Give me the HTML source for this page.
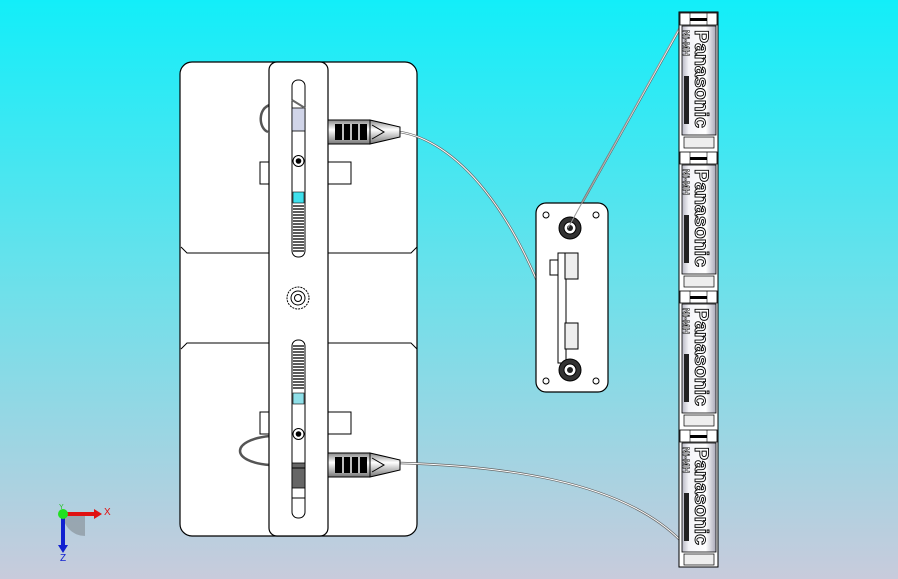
<!DOCTYPE html>
<html><head><meta charset="utf-8"><style>
html,body{margin:0;padding:0;width:898px;height:579px;overflow:hidden}
svg{display:block}
</style></head><body>
<svg width="898" height="579" viewBox="0 0 898 579" xmlns="http://www.w3.org/2000/svg" font-family="Liberation Sans, sans-serif">
<defs>
<linearGradient id="bg" x1="0" y1="0" x2="0" y2="1">
<stop offset="0" stop-color="#12eef9"/>
<stop offset="0.5" stop-color="#6ee0ea"/>
<stop offset="1" stop-color="#c8cbdc"/>
</linearGradient>
<linearGradient id="cell" x1="0" y1="0" x2="1" y2="0">
<stop offset="0" stop-color="#b8b8c4"/>
<stop offset="0.2" stop-color="#f4f4f8"/>
<stop offset="0.7" stop-color="#ffffff"/>
<stop offset="1" stop-color="#a8a8b8"/>
</linearGradient>
<linearGradient id="conn" x1="0" y1="0" x2="0" y2="1">
<stop offset="0" stop-color="#888"/>
<stop offset="0.4" stop-color="#fff"/>
<stop offset="1" stop-color="#777"/>
</linearGradient>
</defs>
<rect width="898" height="579" fill="url(#bg)"/>

<!-- main plate -->
<rect x="180" y="62" width="237" height="474" rx="12" fill="#fff" stroke="#000" stroke-width="1.2"/>
<path d="M181 247 L187 253 L269 253 M328 253 L411 253 L417 247" fill="none" stroke="#000"/>
<path d="M181 349 L187 343 L269 343 M328 343 L411 343 L417 349" fill="none" stroke="#000"/>
<!-- tabs -->
<rect x="260" y="162" width="10" height="22" fill="#fff" stroke="#000"/>
<rect x="328" y="162" width="23" height="22" fill="#fff" stroke="#000"/>
<rect x="260" y="412" width="10" height="22" fill="#fff" stroke="#000"/>
<rect x="328" y="412" width="23" height="22" fill="#fff" stroke="#000"/>
<!-- loops -->
<path d="M270 105 C258 108 258 128 268 132" fill="none" stroke="#555" stroke-width="2.5"/>
<path d="M270 436 C230 440 230 462 270 465" fill="none" stroke="#555" stroke-width="2.5"/>
<!-- vertical strip -->
<rect x="269" y="62" width="59" height="474" rx="8" fill="#fff" stroke="#000" stroke-width="1.2"/>
<!-- upper slot -->
<rect x="292" y="80" width="13" height="177" rx="6" fill="#fff" stroke="#000"/>
<rect x="292" y="108" width="13" height="23" fill="#d0d4e8" stroke="#000" stroke-width="0.8"/>
<path d="M292 100 L305 108" stroke="#666" stroke-width="2"/>
<rect x="293" y="192" width="11" height="11" fill="#3fe0ec" stroke="#000" stroke-width="0.6"/>
<g stroke="#000" stroke-width="1.3">
<line x1="293" y1="206" x2="304" y2="206"/><line x1="293" y1="209" x2="304" y2="209"/><line x1="293" y1="212" x2="304" y2="212"/><line x1="293" y1="215" x2="304" y2="215"/><line x1="293" y1="218" x2="304" y2="218"/><line x1="293" y1="221" x2="304" y2="221"/><line x1="293" y1="224" x2="304" y2="224"/><line x1="293" y1="227" x2="304" y2="227"/><line x1="293" y1="230" x2="304" y2="230"/><line x1="293" y1="233" x2="304" y2="233"/><line x1="293" y1="236" x2="304" y2="236"/><line x1="293" y1="239" x2="304" y2="239"/><line x1="293" y1="242" x2="304" y2="242"/><line x1="293" y1="245" x2="304" y2="245"/><line x1="293" y1="248" x2="304" y2="248"/><line x1="293" y1="251" x2="304" y2="251"/>
</g>
<circle cx="298.5" cy="161" r="5.5" fill="#fff" stroke="#000"/><circle cx="298.5" cy="161" r="2.8" fill="#000"/>
<!-- center screw -->
<circle cx="298" cy="298" r="11" fill="#fff" stroke="#000" stroke-dasharray="2 1"/>
<circle cx="298" cy="298" r="7" fill="#fff" stroke="#000"/>
<circle cx="298" cy="298" r="3.5" fill="#fff" stroke="#000"/>
<!-- lower slot -->
<rect x="292" y="340" width="13" height="178" rx="6" fill="#fff" stroke="#000"/>
<g stroke="#000" stroke-width="1.3">
<line x1="293" y1="346" x2="304" y2="346"/><line x1="293" y1="349" x2="304" y2="349"/><line x1="293" y1="352" x2="304" y2="352"/><line x1="293" y1="355" x2="304" y2="355"/><line x1="293" y1="358" x2="304" y2="358"/><line x1="293" y1="361" x2="304" y2="361"/><line x1="293" y1="364" x2="304" y2="364"/><line x1="293" y1="367" x2="304" y2="367"/><line x1="293" y1="370" x2="304" y2="370"/><line x1="293" y1="373" x2="304" y2="373"/><line x1="293" y1="376" x2="304" y2="376"/><line x1="293" y1="379" x2="304" y2="379"/><line x1="293" y1="382" x2="304" y2="382"/><line x1="293" y1="385" x2="304" y2="385"/><line x1="293" y1="388" x2="304" y2="388"/>
</g>
<rect x="293" y="393" width="11" height="11" fill="#8fdfe8" stroke="#000" stroke-width="0.6"/>
<circle cx="298.5" cy="434" r="5.5" fill="#fff" stroke="#000"/><circle cx="298.5" cy="434" r="2.8" fill="#000"/>
<rect x="292" y="463" width="13" height="25" fill="#666" stroke="#000" stroke-width="0.8"/>
<line x1="292" y1="468" x2="305" y2="468" stroke="#000"/>
<line x1="292" y1="498" x2="305" y2="498" stroke="#000"/>

<!-- cables -->
<path d="M400 132 C450 140 520 200 568 370" fill="none" stroke="#666" stroke-width="2.4"/>
<path d="M400 132 C450 140 520 200 568 370" fill="none" stroke="#fff" stroke-width="1"/>
<path d="M400 463 C500 466 620 480 680 540" fill="none" stroke="#666" stroke-width="2.4"/>
<path d="M400 463 C500 466 620 480 680 540" fill="none" stroke="#fff" stroke-width="1"/>
<path d="M568 228 L680 28" fill="none" stroke="#666" stroke-width="2.4"/>
<path d="M568 228 L680 28" fill="none" stroke="#fff" stroke-width="1"/>

<!-- connectors -->
<g>
<rect x="328" y="120" width="42" height="24" fill="url(#conn)" stroke="#000"/>
<rect x="335" y="124" width="32" height="16" fill="#000"/>
<g stroke="#fff" stroke-width="1.5"><line x1="343" y1="124" x2="343" y2="140"/><line x1="351" y1="124" x2="351" y2="140"/><line x1="359" y1="124" x2="359" y2="140"/></g>
<path d="M370 120 L400 127 L400 137 L370 144 Z" fill="url(#conn)" stroke="#000"/>
<path d="M372 125 L384 132 L372 139" fill="none" stroke="#000"/>
</g>
<g>
<rect x="328" y="453" width="42" height="24" fill="url(#conn)" stroke="#000"/>
<rect x="335" y="457" width="32" height="16" fill="#000"/>
<g stroke="#fff" stroke-width="1.5"><line x1="343" y1="457" x2="343" y2="473"/><line x1="351" y1="457" x2="351" y2="473"/><line x1="359" y1="457" x2="359" y2="473"/></g>
<path d="M370 453 L400 460 L400 470 L370 477 Z" fill="url(#conn)" stroke="#000"/>
<path d="M372 458 L384 465 L372 472" fill="none" stroke="#000"/>
</g>

<!-- small plate -->
<rect x="536" y="203" width="72" height="189" rx="10" fill="#fff" stroke="#000" stroke-width="1.2"/>
<circle cx="546" cy="215" r="3" fill="#fff" stroke="#000"/>
<circle cx="596" cy="215" r="3" fill="#fff" stroke="#000"/>
<circle cx="546" cy="381" r="3" fill="#fff" stroke="#000"/>
<circle cx="596" cy="381" r="3" fill="#fff" stroke="#000"/>
<rect x="550" y="260" width="10" height="15" fill="#fff" stroke="#000"/>
<rect x="558" y="253" width="8" height="110" fill="#fff" stroke="#000"/>
<rect x="565" y="253" width="13" height="26" fill="#eee" stroke="#000"/>
<rect x="565" y="323" width="13" height="26" fill="#eee" stroke="#000"/>
<circle cx="570" cy="228" r="11" fill="#333" stroke="#000"/>
<circle cx="570" cy="228" r="6" fill="#fff" stroke="#000"/>
<circle cx="570" cy="228" r="3" fill="#222"/>
<circle cx="570" cy="370" r="11" fill="#333" stroke="#000"/>
<circle cx="570" cy="370" r="6" fill="#fff" stroke="#000"/>
<circle cx="570" cy="370" r="3" fill="#222"/>
<path d="M568 228 L679 28" fill="none" stroke="#999" stroke-width="1"/>

<!-- battery pack -->
<rect x="679" y="12" width="39" height="555" fill="#fff" stroke="#000"/>

<g>
<rect x="680" y="13" width="37" height="12" fill="#fff" stroke="#000" stroke-width="0.8"/>
<line x1="690" y1="13" x2="690" y2="25" stroke="#000" stroke-width="0.6"/><line x1="707" y1="13" x2="707" y2="25" stroke="#000" stroke-width="0.6"/>
<rect x="690" y="18" width="17" height="3" fill="#000"/>
<rect x="682" y="26" width="34" height="109" fill="url(#cell)" stroke="#000" stroke-width="0.8"/>
<text transform="translate(695,30) rotate(90)" font-size="19" font-weight="bold" fill="#fff" stroke="#000" stroke-width="0.9" textLength="98" lengthAdjust="spacingAndGlyphs">Panasonic</text>
<text transform="translate(683,30) rotate(90)" font-size="9" font-weight="bold" fill="#fff" stroke="#000" stroke-width="0.5">Ni-MH</text>
<rect x="684" y="76" width="5" height="48" fill="#222"/>
<rect x="684" y="137" width="30" height="11" fill="#eee" stroke="#000" stroke-width="0.7"/>
</g>
<g>
<rect x="680" y="152" width="37" height="12" fill="#fff" stroke="#000" stroke-width="0.8"/>
<line x1="690" y1="152" x2="690" y2="164" stroke="#000" stroke-width="0.6"/><line x1="707" y1="152" x2="707" y2="164" stroke="#000" stroke-width="0.6"/>
<rect x="690" y="157" width="17" height="3" fill="#000"/>
<rect x="682" y="165" width="34" height="109" fill="url(#cell)" stroke="#000" stroke-width="0.8"/>
<text transform="translate(695,169) rotate(90)" font-size="19" font-weight="bold" fill="#fff" stroke="#000" stroke-width="0.9" textLength="98" lengthAdjust="spacingAndGlyphs">Panasonic</text>
<text transform="translate(683,169) rotate(90)" font-size="9" font-weight="bold" fill="#fff" stroke="#000" stroke-width="0.5">Ni-MH</text>
<rect x="684" y="215" width="5" height="48" fill="#222"/>
<rect x="684" y="276" width="30" height="11" fill="#eee" stroke="#000" stroke-width="0.7"/>
</g>
<g>
<rect x="680" y="291" width="37" height="12" fill="#fff" stroke="#000" stroke-width="0.8"/>
<line x1="690" y1="291" x2="690" y2="303" stroke="#000" stroke-width="0.6"/><line x1="707" y1="291" x2="707" y2="303" stroke="#000" stroke-width="0.6"/>
<rect x="690" y="296" width="17" height="3" fill="#000"/>
<rect x="682" y="304" width="34" height="109" fill="url(#cell)" stroke="#000" stroke-width="0.8"/>
<text transform="translate(695,308) rotate(90)" font-size="19" font-weight="bold" fill="#fff" stroke="#000" stroke-width="0.9" textLength="98" lengthAdjust="spacingAndGlyphs">Panasonic</text>
<text transform="translate(683,308) rotate(90)" font-size="9" font-weight="bold" fill="#fff" stroke="#000" stroke-width="0.5">Ni-MH</text>
<rect x="684" y="354" width="5" height="48" fill="#222"/>
<rect x="684" y="415" width="30" height="11" fill="#eee" stroke="#000" stroke-width="0.7"/>
</g>
<g>
<rect x="680" y="430" width="37" height="12" fill="#fff" stroke="#000" stroke-width="0.8"/>
<line x1="690" y1="430" x2="690" y2="442" stroke="#000" stroke-width="0.6"/><line x1="707" y1="430" x2="707" y2="442" stroke="#000" stroke-width="0.6"/>
<rect x="690" y="435" width="17" height="3" fill="#000"/>
<rect x="682" y="443" width="34" height="109" fill="url(#cell)" stroke="#000" stroke-width="0.8"/>
<text transform="translate(695,447) rotate(90)" font-size="19" font-weight="bold" fill="#fff" stroke="#000" stroke-width="0.9" textLength="98" lengthAdjust="spacingAndGlyphs">Panasonic</text>
<text transform="translate(683,447) rotate(90)" font-size="9" font-weight="bold" fill="#fff" stroke="#000" stroke-width="0.5">Ni-MH</text>
<rect x="684" y="493" width="5" height="48" fill="#222"/>
<rect x="684" y="554" width="30" height="11" fill="#eee" stroke="#000" stroke-width="0.7"/>
</g>

<!-- axis triad -->
<path d="M63 514 A22 22 0 0 0 85 536 L85 514 Z" fill="#8a949c" opacity="0.7"/>
<line x1="63" y1="514" x2="95" y2="514" stroke="#e01010" stroke-width="4"/>
<path d="M94 509 L102 514 L94 519 Z" fill="#e01010"/>
<line x1="63" y1="514" x2="63" y2="546" stroke="#1020d0" stroke-width="4"/>
<path d="M58 545 L63 553 L68 545 Z" fill="#1020d0"/>
<circle cx="63" cy="514" r="5" fill="#20e020"/>
<text x="104" y="515" font-size="10" fill="#e01010">X</text>
<text x="60" y="561" font-size="10" fill="#1020d0">Z</text>
<text x="59" y="509" font-size="7" fill="#20c020">Y</text>
</svg>
</body></html>
